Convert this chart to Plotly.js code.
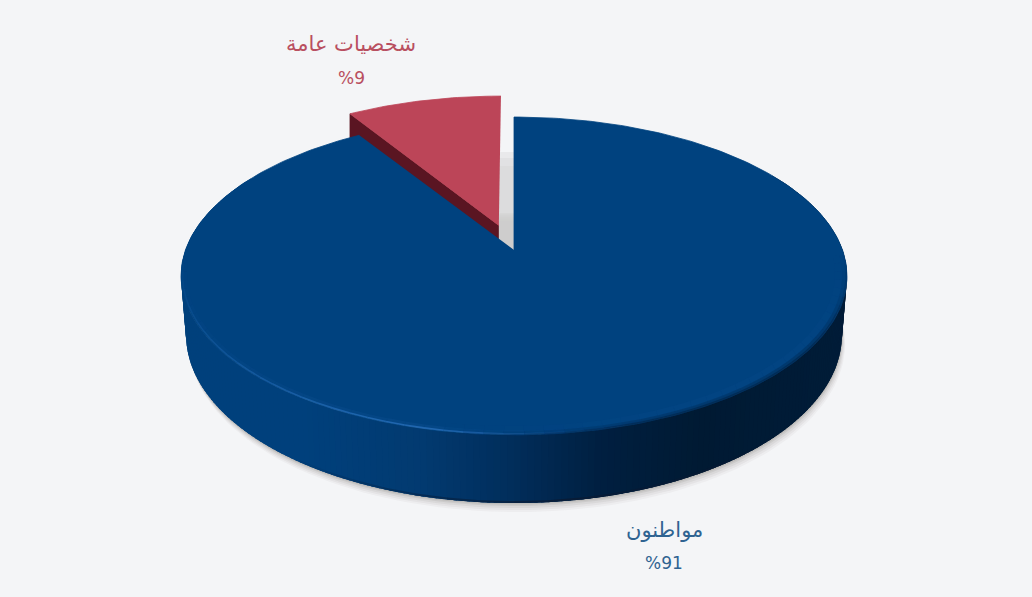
<!DOCTYPE html>
<html><head><meta charset="utf-8">
<script src="https://cdn.plot.ly/plotly-3.0.1.min.js"></script>
<style>html,body{margin:0;padding:0;background:#f4f5f7}</style></head>
<body><div id="chart" style="width:1032px;height:597px"></div>
<script>
const categories = ['مواطنون', 'شخصيات عامة'];
const shares = [91, 9];

// Pie geometry: a disc in perspective, seen from the front
const APEX = [514, 250], SX = 328.5, SY = 154.7, PERSP = 0.1635, DEPTH = 57, EXPLODE = 0.17;
const BASE_SCALE = 0.985;
const rad = d => d * Math.PI / 180;
function proj(X, Y, z) {
  const w = 1 + PERSP * Y;
  return [APEX[0] + SX * X / w, APEX[1] + (-SY * Y + (z || 0) * DEPTH) / w];
}
function rimPoint(deg, ox, oy, z) {
  return proj(Math.sin(rad(deg)) + (ox || 0), Math.cos(rad(deg)) + (oy || 0), z);
}
function innerPoint(deg, r) {
  return proj(Math.sin(rad(deg)) * r, Math.cos(rad(deg)) * r);
}
function basePoint(deg) {
  return proj(Math.sin(rad(deg)) * BASE_SCALE, Math.cos(rad(deg)), 1);
}
function range(a, b, step) {
  const out = []; const n = Math.max(1, Math.round(Math.abs(b - a) / step));
  for (let i = 0; i <= n; i++) out.push(a + (b - a) * i / n);
  return out;
}
const traces = [];
function poly(pts, color, opacity, edged) {
  traces.push({type:'scatter', mode:'lines', x:pts.map(p=>p[0]), y:pts.map(p=>p[1]), fill:'toself',
    fillcolor:color, opacity:opacity==null?1:opacity, line:{color:color, width:edged?0.8:0},
    hoverinfo:'skip', showlegend:false});
}
function stroke(pts, color, width, opacity) {
  traces.push({type:'scatter', mode:'lines', x:pts.map(p=>p[0]), y:pts.map(p=>p[1]),
    line:{color:color, width:width}, opacity:opacity, hoverinfo:'skip', showlegend:false});
}
function mix(stops, t) {
  for (let i = 1; i < stops.length; i++) {
    if (t <= stops[i][0]) {
      const a = stops[i-1], b = stops[i], f = Math.max(0, (t - a[0]) / (b[0] - a[0] || 1));
      const c = [1,2,3].map(k => Math.round(a[k] + (b[k] - a[k]) * f));
      return `rgb(${c[0]},${c[1]},${c[2]})`;
    }
  }
  const l = stops[stops.length-1]; return `rgb(${l[1]},${l[2]},${l[3]})`;
}

const blueSweep = 360 * shares[0] / 100;
const redSweep = 360 * shares[1] / 100;
const blueAngles = range(0, blueSweep, 1);
const redAngles = range(blueSweep, 360, 1);
const midRed = blueSweep + redSweep / 2;
const ox = Math.sin(rad(midRed)) * EXPLODE, oy = Math.cos(rad(midRed)) * EXPLODE;

// soft ground shadow
[[9,.05],[7,.07],[5,.09],[3,.12],[1.5,.15]].forEach(([d,o]) => {
  const pts = range(50, 310, 2).map(a => { const p = basePoint(a); return [p[0] + d*0.35, p[1] + d]; });
  poly(pts, '#6f6a60', o);
});

// grey shadow in the gap between the slices
[[0,.35],[6,.35],[14,.4]].forEach(([d,o]) => {
  const tip = proj(ox, oy);
  poly([[tip[0], 152+d],[APEX[0], 152+d],[APEX[0], APEX[1]],[tip[0], tip[1]+13]], '#d4d4d4', o);
});

// red slice: wall then top face
const redRim = a => proj(Math.sin(rad(a)) + ox, Math.cos(rad(a)) * 1.025 + oy);
const redFirst = redRim(blueSweep);
const redTip = proj(ox, oy);
poly([redTip, redFirst, [redFirst[0], redFirst[1] + DEPTH/1.16], [redTip[0], redTip[1] + DEPTH/1.03]], '#5a1522', 1, true);
poly([redTip].concat(redAngles.map(redRim)), '#bc4558', 1, true);

// blue wall, drawn strip by strip with overlap so no seams show
const wallStops = [[0,0,64,124],[0.18,0,64,124],[0.36,2,58,112],[0.5,1,45,90],[0.63,0,31,64],[0.78,0,26,51],[1,0,28,56]];
const minX = 182, maxX = 848;
const wallAngles = range(300, 60, 1);
for (let i = 0; i < wallAngles.length - 1; i++) {
  const a = wallAngles[i], b = wallAngles[i+1], e = b - 1.5;
  const p1 = rimPoint(a), p2 = rimPoint(e), p3 = basePoint(e), p4 = basePoint(a);
  const pm = rimPoint((a+b)/2);
  poly([p1,p2,p3,p4], mix(wallStops, (pm[0] - minX) / (maxX - minX)));
}
// dark line on the lower edge of the wall
const edgeSegs = range(125, 215, 5);
for (let i = 0; i < edgeSegs.length - 1; i++) {
  const m = (edgeSegs[i] + edgeSegs[i+1]) / 2;
  const f = Math.max(0, 1 - Math.abs(m - 172) / 45);
  stroke(range(edgeSegs[i], edgeSegs[i+1], 1).map(d => { const p = basePoint(d); return [p[0], p[1]-1]; }), '#0a1a33', 2, 0.8 * f);
}

// blue top face
poly([APEX].concat(blueAngles.map(a => rimPoint(a))), '#00427f', 1, true);

// light band and soft dark edge along the rim, kept inside the disc
const rimSegs = range(92, 268, 3);
for (let i = 0; i < rimSegs.length - 1; i++) {
  const a = rimSegs[i], b = rimSegs[i+1], mid = (a+b)/2;
  const ring = r => range(a, b, 1).map(d => innerPoint(d, r));
  const light = Math.max(0, Math.min(1, (mid - 165) / 25)) * Math.max(0, Math.min(1, (268 - mid) / 70));
  if (light > 0) {
    stroke(ring(0.988), '#1f63ae', 4, 0.15 * light);
    stroke(ring(0.995), '#2f78c6', 1.6, 0.65 * light);
  }
  const dark = Math.max(0, Math.min(1, (190 - mid) / 30));
  const fadeIn = Math.max(0, Math.min(1, (mid - 92) / 30));
  if (dark > 0) {
    stroke(ring(0.975), '#0a4f90', 7, 0.18 * dark * fadeIn);
    stroke(ring(0.992), '#00244a', 4, 0.3 * dark * fadeIn);
    stroke(ring(0.998), '#00244a', 2, 0.6 * dark * fadeIn);
  }
}

// labels
const textFont = '"DejaVu Sans", "Noto Sans", sans-serif';
const labelSpots = [[664, 530, 563, '#2f6391'], [351, 44, 78, '#b94f60']];
const annotations = [];
categories.forEach((c, i) => {
  const [x, y1, y2, col] = labelSpots[i];
  annotations.push({x, y:y1, xref:'x', yref:'y', text:c, showarrow:false, font:{family:textFont, size:21, color:col}});
  annotations.push({x, y:y2, xref:'x', yref:'y', text:'%' + shares[i], showarrow:false, font:{family:textFont, size:17, color:col}});
});

Plotly.newPlot('chart', traces, {
  width:1032, height:597, margin:{l:0,r:0,t:0,b:0}, paper_bgcolor:'#f4f5f7', plot_bgcolor:'#f4f5f7',
  showlegend:false, annotations,
  xaxis:{range:[0,1032], visible:false, fixedrange:true},
  yaxis:{range:[597,0], visible:false, fixedrange:true}
}, {staticPlot:true, displayModeBar:false});
</script></body></html>
